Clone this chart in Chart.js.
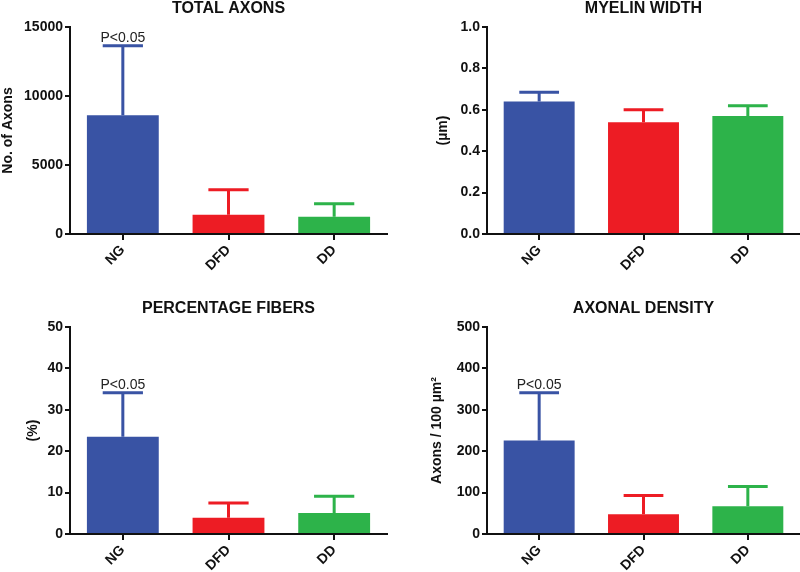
<!DOCTYPE html>
<html>
<head>
<meta charset="utf-8">
<script src="https://cdn.jsdelivr.net/npm/chart.js@4.4.0/dist/chart.umd.min.js"></script>
<style>
    html, body { margin: 0; padding: 0; background: #fff; }
    #panel { position: relative; width: 800px; height: 572px; }
    canvas { position: absolute; }
</style>
</head>
<body>
<div id="panel">
    <canvas id="graficaTotal" width="400" height="286" style="left:0;top:0"></canvas>
    <canvas id="graficaMielina" width="400" height="286" style="left:400px;top:0"></canvas>
    <canvas id="graficaPorcentaje" width="400" height="286" style="left:0;top:286px"></canvas>
    <canvas id="graficaDensidad" width="400" height="286" style="left:400px;top:286px"></canvas>
</div>
<script>
const grupos = ["NG", "DFD", "DD"];
const coloresGrupos = ["#3953a4", "#ed1c24", "#2db34a"];

const totalAxonesMedia = [8600, 1400, 1250];
const totalAxonesError = [5050, 1800, 950];

const mielinaMedia = [0.64, 0.54, 0.57];
const mielinaError = [0.045, 0.06, 0.05];

const porcentajeMedia = [23.5, 3.9, 5.1];
const porcentajeError = [10.6, 3.6, 4.0];

const densidadMedia = [226, 48, 67];
const densidadError = [115, 45, 48];

const textoSignificancia = "P<0.05";

Chart.defaults.font.family = "'Liberation Sans', Arial, sans-serif";
Chart.defaults.color = "#111";

// barras de error solo hacia arriba + etiqueta P sobre NG
const barrasError = {
    id: "barrasError",
    afterDatasetsDraw(chart, args, opts) {
        const ctx = chart.ctx;
        const escalaY = chart.scales.y;
        const ds = chart.data.datasets[0];
        const meta = chart.getDatasetMeta(0);

        meta.data.forEach((barra, i) => {
            const arriba = escalaY.getPixelForValue(ds.data[i] + ds.errores[i]);
            const mitad = barra.width * 0.28;
            ctx.save();
            ctx.strokeStyle = ds.backgroundColor[i];
            ctx.lineWidth = 3;
            ctx.beginPath();
            ctx.moveTo(barra.x, barra.y);
            ctx.lineTo(barra.x, arriba);
            ctx.moveTo(barra.x - mitad, arriba);
            ctx.lineTo(barra.x + mitad, arriba);
            ctx.stroke();
            if (i === 0 && opts.texto) {
                ctx.fillStyle = "#222";
                ctx.font = "14px 'Liberation Sans', Arial, sans-serif";
                ctx.textAlign = "center";
                ctx.textBaseline = "alphabetic";
                ctx.fillText(opts.texto, barra.x, arriba - 4);
            }
            ctx.restore();
        });
    }
};

function crearPanel(id, cfg) {
    return new Chart(document.getElementById(id), {
        type: "bar",
        data: {
            labels: grupos,
            datasets: [{
                data: cfg.medias,
                errores: cfg.errores,
                backgroundColor: coloresGrupos,
                barPercentage: 0.68,
                categoryPercentage: 1
            }]
        },
        options: {
            responsive: false,
            animation: false,
            layout: { padding: { top: cfg.padTop, right: cfg.padRight, left: 0, bottom: 0 } },
            plugins: {
                legend: { display: false },
                tooltip: { enabled: false },
                title: {
                    display: true,
                    text: cfg.titulo,
                    fullSize: false,
                    color: "#111",
                    font: { size: 16, weight: "bold", lineHeight: 1 },
                    padding: { top: 1, bottom: 10 }
                },
                barrasError: { texto: cfg.textoP }
            },
            scales: {
                x: {
                    grid: { offset: false, drawOnChartArea: false, drawTicks: true, tickLength: 6, color: "#111", lineWidth: 2 },
                    border: { color: "#111", width: 2 },
                    ticks: { color: "#111", font: { size: 14, weight: "bold" }, maxRotation: 45, minRotation: 45, padding: 2 },
                    afterFit: (s) => { s.height = cfg.altoX; }
                },
                y: {
                    min: 0,
                    max: cfg.max,
                    ticks: {
                        stepSize: cfg.paso,
                        color: "#111",
                        font: { size: 14, weight: "bold" },
                        padding: 2,
                        callback: cfg.formato
                    },
                    grid: { drawOnChartArea: false, drawTicks: true, tickLength: 5, color: "#111", lineWidth: 2 },
                    border: { color: "#111", width: 2 },
                    title: {
                        display: true,
                        text: cfg.ejeY,
                        color: "#111",
                        font: { size: 14, weight: "bold" },
                        padding: { top: cfg.padEjeY, bottom: 0 }
                    },
                    afterFit: (s) => { s.width = cfg.anchoY; }
                }
            }
        },
        plugins: [barrasError]
    });
}

crearPanel("graficaTotal", {
    titulo: "TOTAL AXONS", ejeY: "No. of Axons",
    medias: totalAxonesMedia, errores: totalAxonesError,
    max: 15000, paso: 5000, formato: (v) => v,
    textoP: textoSignificancia,
    padTop: 0, padRight: 13, anchoY: 70, altoX: 52, padEjeY: 0
});

crearPanel("graficaMielina", {
    titulo: "MYELIN WIDTH", ejeY: "(µm)",
    medias: mielinaMedia, errores: mielinaError,
    max: 1, paso: 0.2, formato: (v) => Number(v).toFixed(1),
    textoP: null,
    padTop: 0, padRight: 0, anchoY: 87, altoX: 52, padEjeY: 35
});

crearPanel("graficaPorcentaje", {
    titulo: "PERCENTAGE FIBERS", ejeY: "(%)",
    medias: porcentajeMedia, errores: porcentajeError,
    max: 50, paso: 10, formato: (v) => v,
    textoP: textoSignificancia,
    padTop: 14, padRight: 13, anchoY: 70, altoX: 38, padEjeY: 25
});

crearPanel("graficaDensidad", {
    titulo: "AXONAL DENSITY", ejeY: "Axons / 100 µm²",
    medias: densidadMedia, errores: densidadError,
    max: 500, paso: 100, formato: (v) => v,
    textoP: textoSignificancia,
    padTop: 14, padRight: 0, anchoY: 87, altoX: 38, padEjeY: 29
});
</script>
</body>
</html>
